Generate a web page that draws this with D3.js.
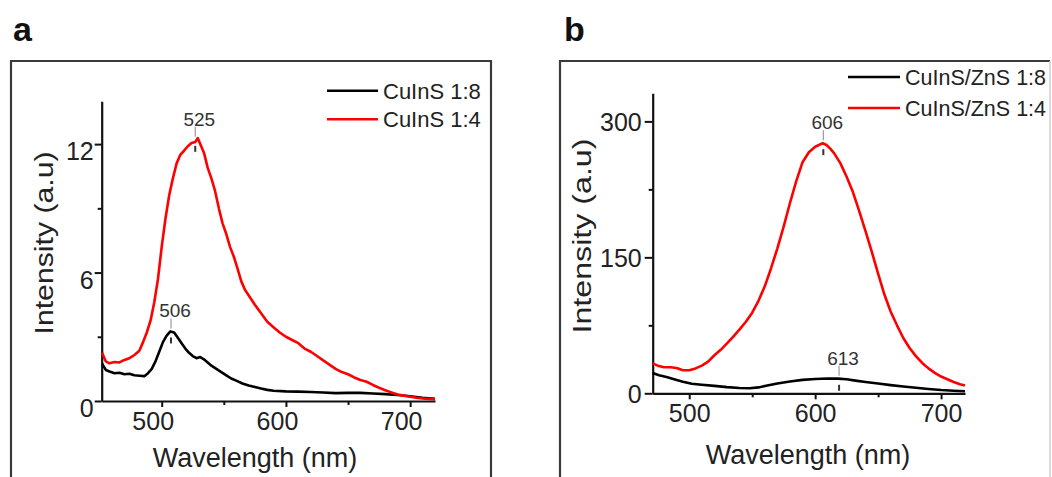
<!DOCTYPE html>
<html><head><meta charset="utf-8">
<script src="https://cdn.jsdelivr.net/npm/d3@7/dist/d3.min.js"></script>
<style>
html,body{margin:0;padding:0;background:#fff;}
svg{display:block;font-family:"Liberation Sans",Arial,sans-serif;}
</style></head>
<body>
<svg id="c" width="1052" height="477"></svg>
<script>
// ---------------- DATA ----------------
// Panel a
const wlA = [452,455,458,462,466,470,474,478,482,485,488,491,494,497,500,503,506,509,512,515,518,521,524,527,529,531,534,537,540,543,546,549,552,555,558,561,564,567,571,575,580,585,590,595,600,605,610,615,620,625,630,635,640,645,650,655,660,665,670,675,680,685,690,695,700,705,710,715,720];
const redA = [2.25,1.85,1.76,1.82,1.80,1.92,2.0,2.15,2.35,2.75,3.2,3.75,4.6,5.7,7.2,8.5,9.6,10.4,11.1,11.5,11.7,11.9,12.05,12.1,12.28,12.0,11.6,10.9,10.4,9.8,9.0,8.3,7.8,7.2,6.75,6.2,5.6,5.2,4.85,4.5,4.1,3.7,3.45,3.2,3.0,2.85,2.7,2.45,2.3,2.1,1.9,1.7,1.5,1.35,1.25,1.1,0.98,0.9,0.75,0.62,0.5,0.4,0.3,0.25,0.2,0.15,0.12,0.1,0.08];
const wlA2 = [452,455,458,462,466,470,474,478,482,486,489,492,495,498,501,504,507,510,513,516,519,522,525,528,531,534,537,540,544,548,552,556,560,565,570,575,580,585,590,600,610,620,630,640,650,660,670,680,690,700,710,720];
const blackA = [1.75,1.45,1.38,1.3,1.32,1.25,1.27,1.2,1.18,1.16,1.3,1.5,1.85,2.3,2.75,3.05,3.25,3.2,2.95,2.7,2.45,2.25,2.1,2.0,2.05,1.95,1.8,1.65,1.5,1.35,1.2,1.05,0.95,0.82,0.72,0.65,0.58,0.52,0.48,0.45,0.44,0.42,0.4,0.37,0.38,0.38,0.35,0.32,0.28,0.22,0.15,0.1];
const seriesNamesA = ["CuInS 1:8","CuInS 1:4"];
const xTicksA = [500,600,700], xMinorA = [550,650];
const yTicksA = [0,6,12], yMinorA = [3,9];
const annA = [{label:"525", x:527, y:12.2},{label:"506", x:507.5, y:3.25}];

// Panel b
const wlB = [471,475,480,485,490,495,500,505,510,515,520,525,530,535,540,545,550,555,560,565,570,575,580,585,590,595,600,603,606,609,612,615,620,625,630,635,640,645,650,655,660,665,670,675,680,685,690,695,700,705,710,715,719];
const redB = [33,30.5,28.7,28.7,28,25.5,25.5,27.5,30.5,35,42,48,55,62.5,70.5,79,89,102,118,138,160,184,210,234,255,266,272,274,276,274,270,265,254,239,222,201,179,156,132,109,90,75,61,50,41,33.5,27.5,22.5,18.5,15.5,12.5,10,8.5];
const wlB2 = [471,476,482,488,495,502,510,520,530,540,548,555,562,570,580,590,600,610,618,625,632,640,650,660,670,680,690,700,710,719];
const blackB = [22.5,20,18,15.5,12.8,10.5,9.5,8.2,6.8,5.8,5.5,6.5,8.5,10.8,13,14.8,15.8,16.3,16.2,15.5,14,12.5,10.8,9,7.5,6.2,4.8,3.6,2.8,2.3];
const seriesNamesB = ["CuInS/ZnS 1:8","CuInS/ZnS 1:4"];
const xTicksB = [500,600,700], xMinorB = [550,650];
const yTicksB = [0,150,300], yMinorB = [75,225];
const annB = [{label:"606", x:606.5, y:276},{label:"613", x:619, y:16}];

const xTitle = "Wavelength (nm)", yTitle = "Intensity (a.u)";
const colors = ["#000000","#ff0000"];

// ---------------- DRAW ----------------
const svg = d3.select("#c");
const zip = (xs, ys) => xs.map((x,i)=>[x, ys[i]]);

function panel(o){
  const g = svg.append("g");
  // frame
  g.append("path").attr("d", o.frame).attr("fill","none").attr("stroke","#3a3a3a").attr("stroke-width",2.2);
  if (o.frameRight) g.append("line").attr("x1",o.frameRight).attr("x2",o.frameRight).attr("y1",61).attr("y2",477).attr("stroke","#cfcfcf").attr("stroke-width",1.5);
  g.append("text").attr("x",o.letterX).attr("y",o.letterY).attr("font-size",34).attr("font-weight","bold").attr("fill","#111").text(o.letter);

  const x = d3.scaleLinear().domain(o.xd).range(o.xr);
  const y = d3.scaleLinear().domain(o.yd).range(o.yr);

  // axes
  const ax = g.append("g").attr("transform",`translate(0,${o.yr[0]})`)
    .call(d3.axisBottom(x).tickValues(o.xt).tickSize(6).tickSizeOuter(0).tickPadding(5).tickFormat(d3.format("d")));
  g.append("g").attr("transform",`translate(0,${o.yr[0]})`)
    .call(d3.axisBottom(x).tickValues(o.xm).tickSize(4).tickSizeOuter(0).tickFormat(""))
    .call(s=>s.select(".domain").remove());
  const ay = g.append("g").attr("transform",`translate(${o.xr[0]},0)`)
    .call(d3.axisLeft(y).tickValues(o.yt).tickSize(o.ytick).tickSizeOuter(0).tickPadding(o.ypad).tickFormat(d3.format("d")));
  g.append("g").attr("transform",`translate(${o.xr[0]},0)`)
    .call(d3.axisLeft(y).tickValues(o.ym).tickSize(4).tickSizeOuter(0).tickFormat(""))
    .call(s=>s.select(".domain").remove());
  g.selectAll(".domain").attr("stroke","#111").attr("stroke-width",2.2);
  g.selectAll(".tick line").attr("stroke","#111").attr("stroke-width",2);
  ax.selectAll("text").attr("font-size",25).attr("fill","#222").attr("font-family","Liberation Sans, Arial, sans-serif").attr("dx",o.xlabDx);
  ay.selectAll("text").attr("font-size",25).attr("fill","#222").attr("font-family","Liberation Sans, Arial, sans-serif").attr("dy",o.ylabDy);

  // titles
  g.append("text").attr("x",o.xtX).attr("y",o.xtY).attr("text-anchor","middle").attr("font-size",27).attr("fill","#222").text(xTitle);
  g.append("text").attr("transform",`translate(${o.ytX},${o.ytY}) rotate(-90)`).attr("text-anchor","middle")
    .attr("font-size",26).attr("fill","#222").attr("textLength",o.ytLen).attr("lengthAdjust","spacingAndGlyphs").text(yTitle);

  // curves
  const line = d3.line().x(d=>x(d[0])).y(d=>y(d[1])).curve(d3.curveLinear);
  o.series.forEach((s,i)=>{
    g.append("path").datum(s).attr("d",line).attr("fill","none").attr("stroke",colors[i])
      .attr("stroke-width",2.6).attr("stroke-linejoin","round");
  });

  // annotations
  o.ann.forEach(a=>{
    const px = x(a.x), py = y(a.y);
    g.append("line").attr("x1",px).attr("x2",px).attr("y1",py-13).attr("y2",py-3).attr("stroke","#9a9a9a").attr("stroke-width",1.2);
    g.append("line").attr("x1",px).attr("x2",px).attr("y1",py+6).attr("y2",py+12).attr("stroke","#333").attr("stroke-width",2);
    g.append("text").attr("x",px+4).attr("y",py-14).attr("text-anchor","middle").attr("font-size",19).attr("fill","#333").text(a.label);
  });

  // legend
  o.names.forEach((n,i)=>{
    const ly = o.legY[i];
    g.append("line").attr("x1",o.legX[0]).attr("x2",o.legX[1]).attr("y1",ly).attr("y2",ly).attr("stroke",colors[i]).attr("stroke-width",2.6);
    g.append("text").attr("x",o.legX[1]+5).attr("y",ly).attr("dy","0.36em").attr("font-size",o.legFont).attr("fill","#222").text(n);
  });
}

panel({
  frame:"M11,480 V61 H491 V480", letter:"a", letterX:13, letterY:41,
  xd:[451.7,720], xr:[101.7,435], yd:[0,14], yr:[401,101.3],
  xt:xTicksA, xm:xMinorA, yt:yTicksA, ym:yMinorA, ytick:7, ypad:1, xlabDx:-9, ylabDy:"0.62em",
  xtX:255, xtY:467, ytX:53, ytY:243, ytLen:183,
  series:[zip(wlA2,blackA), zip(wlA,redA)], ann:annA, names:seriesNamesA,
  legX:[327,378], legY:[90.7,119.3], legFont:22
});
panel({
  frame:"M560,480 V61 H1050", frameRight:1050, letter:"b", letterX:564, letterY:41,
  xd:[471,719], xr:[652.7,965], yd:[0,331], yr:[393.3,93.3],
  xt:xTicksB, xm:xMinorB, yt:yTicksB, ym:yMinorB, ytick:8, ypad:3, xlabDx:0, ylabDy:"0.36em",
  xtX:808, xtY:464, ytX:591, ytY:236, ytLen:195,
  series:[zip(wlB2,blackB), zip(wlB,redB)], ann:annB, names:seriesNamesB,
  legX:[848,900], legY:[77,108], legFont:21.5
});
</script>
</body></html>
